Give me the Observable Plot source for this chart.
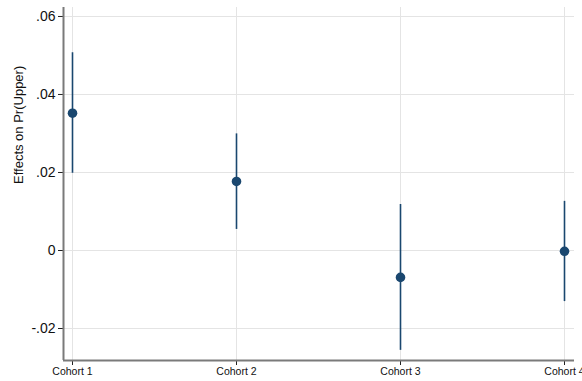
<!DOCTYPE html>
<html>
<head>
<meta charset="utf-8">
<script src="https://cdn.jsdelivr.net/npm/d3@7"></script>
<script src="https://cdn.jsdelivr.net/npm/@observablehq/plot@0.6"></script>
<style>
  html, body { margin: 0; padding: 0; background: #fff; }
  svg { display: block; }
</style>
</head>
<body>
<div id="chart"></div>
<script>
// Estimated effects by cohort with confidence intervals
const cohorts = ["Cohort 1", "Cohort 2", "Cohort 3", "Cohort 4"];
const estimates = [0.0352, 0.0177, -0.0069, -0.0002];
const lower = [0.0198, 0.0054, -0.0256, -0.0131];
const upper = [0.0507, 0.0299, 0.0118, 0.0126];
const yTicks = [-0.02, 0, 0.02, 0.04, 0.06];

const data = cohorts.map((c, i) => ({
  pos: i + 1, label: c, est: estimates[i], lo: lower[i], hi: upper[i]
}));

const navy = "#1a476f";
// Stata-style labels: no leading zero, plain hyphen for negatives
const fmtY = d => {
  if (d === 0) return "0";
  const s = Math.abs(d).toFixed(2).replace(/^0\./, ".");
  return (d < 0 ? "-" : "") + s;
};

const chart = Plot.plot({
  width: 582,
  height: 381,
  marginLeft: 63,
  marginRight: 8,
  marginTop: 7,
  marginBottom: 21,
  style: { fontFamily: "'Liberation Sans', Arial, sans-serif", background: "#fff" },
  x: { domain: [1 - 9 / 164, 4 + 10 / 164], ticks: [1, 2, 3, 4], tickFormat: d => cohorts[d - 1] },
  y: { domain: [-0.0282, 0.0623], ticks: yTicks, tickFormat: fmtY },
  marks: [
    Plot.gridY(yTicks, { stroke: "#e4e4e4", strokeOpacity: 1, strokeWidth: 1 }),
    Plot.gridX([1, 2, 3, 4], { stroke: "#e4e4e4", strokeOpacity: 1, strokeWidth: 1 }),
    Plot.ruleX(data, { x: "pos", y1: "lo", y2: "hi", stroke: navy, strokeWidth: 1.6 }),
    Plot.dot(data, { x: "pos", y: "est", r: 4.8, fill: navy, stroke: "none" }),
    Plot.axisY(yTicks, {
      tickFormat: fmtY, tickSize: 5, tickPadding: 3, fontSize: 14, stroke: "#222", fill: "#111",
      label: null
    }),
    Plot.axisX([1, 2, 3, 4], {
      tickFormat: d => cohorts[d - 1], tickSize: 5, tickPadding: 2, fontSize: 10.5, stroke: "#222", fill: "#111",
      label: null
    }),
    Plot.text(["Effects on Pr(Upper)"], {
      frameAnchor: "left", dx: -45, rotate: -90, fontSize: 13, fill: "#111"
    }),
    Plot.ruleX([1 - 9 / 164], { stroke: "#7a7a7a", strokeWidth: 2 }),
    Plot.ruleY([-0.0282], { stroke: "#7a7a7a", strokeWidth: 2 })
  ]
});

document.getElementById("chart").appendChild(chart);
</script>
</body>
</html>
